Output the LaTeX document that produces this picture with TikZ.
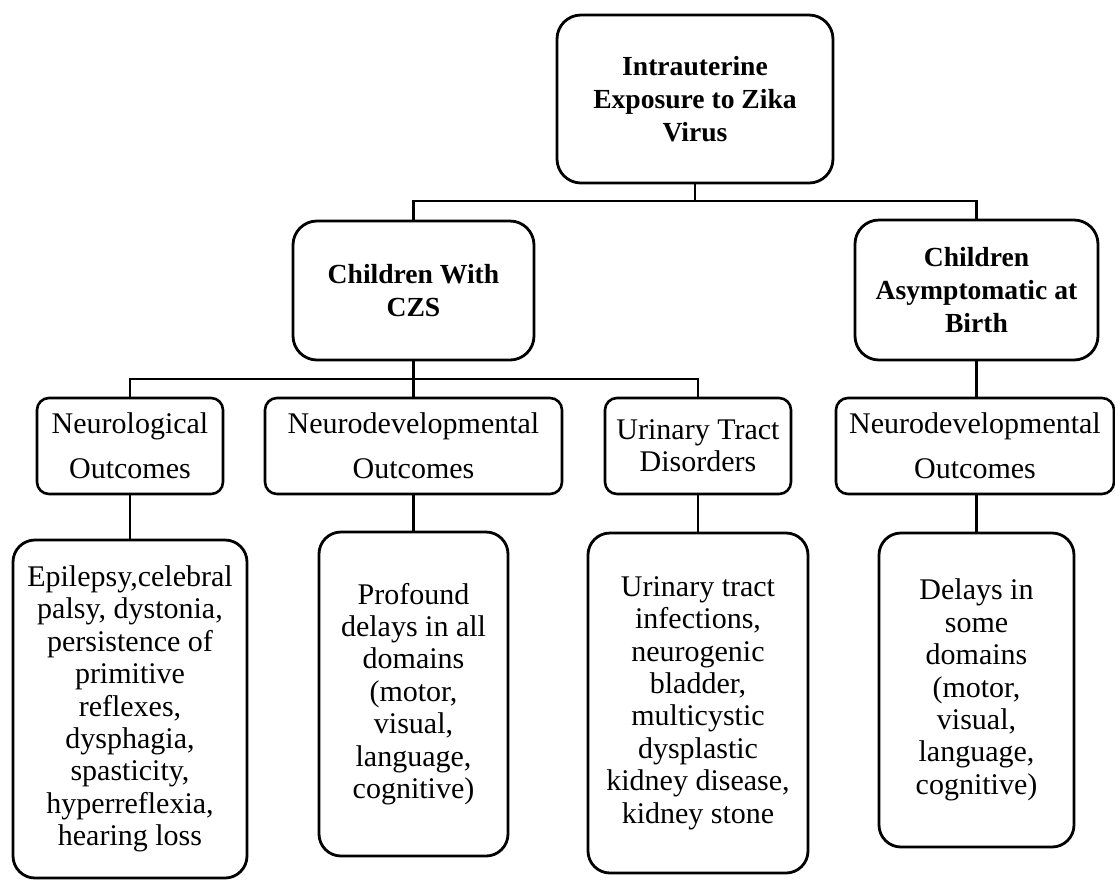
\documentclass[tikz,border=0pt]{standalone}
\usepackage{fontspec}
\setmainfont{Liberation Serif}

\begin{document}
\begin{tikzpicture}[x=0.5pt,y=-0.5pt,
    headbox/.style={draw,line width=1.4pt,rounded corners=12pt,align=center,inner sep=0pt,outer sep=0pt,
        font=\fontsize{13.8}{16.5}\selectfont\bfseries},
    outbox/.style={draw,line width=1.3pt,rounded corners=6pt,align=center,inner sep=0pt,outer sep=0pt,
        minimum height=48pt,font=\fontsize{15}{22.5}\selectfont},
    detailbox/.style={draw,line width=1.4pt,rounded corners=11pt,align=center,inner sep=0pt,outer sep=0pt,
        font=\fontsize{15}{16.2}\selectfont},
    link/.style={line width=1.4pt}]
    \useasboundingbox (0,0) rectangle (1115,880);
    % Top of the tree
    \node[headbox,minimum width=138pt,minimum height=84pt] (zika) at (695,99)
        {Intrauterine\\Exposure to Zika\\Virus};
    % Two groups of children
    \node[headbox,minimum width=120.5pt,minimum height=69.5pt] (czs) at (413.5,290.5)
        {Children With\\CZS};
    \node[headbox,minimum width=121.5pt,minimum height=70pt] (asym) at (976.5,290)
        {Children\\Asymptomatic at\\Birth};
    % Outcome headings
    \node[outbox,minimum width=93pt] (neuro) at (130,446) {Neurological\\Outcomes};
    \node[outbox,minimum width=148.5pt] (ndev) at (413.5,446) {Neurodevelopmental\\Outcomes};
    \node[outbox,minimum width=93pt,font=\fontsize{15}{16.2}\selectfont] (uti) at (698,446)
        {Urinary Tract\\Disorders};
    \node[outbox,minimum width=139pt] (ndevb) at (975,446) {Neurodevelopmental\\Outcomes};
    % Details
    \node[detailbox,minimum width=117pt,minimum height=169pt] (epi) at (130,709)
        {Epilepsy,celebral\\palsy, dystonia,\\persistence of\\primitive\\reflexes,\\dysphagia,\\spasticity,\\hyperreflexia,\\hearing loss};
    \node[detailbox,minimum width=94.5pt,minimum height=162pt] (delayall) at (413.5,694)
        {Profound\\delays in all\\domains\\(motor,\\visual,\\language,\\cognitive)};
    \node[detailbox,minimum width=110pt,minimum height=170pt] (kidney) at (698,703)
        {Urinary tract\\infections,\\neurogenic\\bladder,\\multicystic\\dysplastic\\kidney disease,\\kidney stone};
    \node[detailbox,minimum width=97.5pt,minimum height=157pt] (delaysome) at (976.5,690)
        {Delays in\\some\\domains\\(motor,\\visual,\\language,\\cognitive)};
    % Connectors
    \coordinate (j1) at (695,201);
    \coordinate (j2) at (413.5,379);
    \draw[link] (zika.south) -- (j1);
    \draw[link] (czs.north) |- (j1) -| (asym.north);
    \draw[link] (czs.south) -- (j2);
    \draw[link] (neuro.north) |- (j2) -| (uti.north);
    \draw[link] (j2) -- (ndev.north);
    \draw[link] (asym.south) -- (asym.south |- ndevb.north);
    \draw[link] (neuro.south) -- (epi.north);
    \draw[link] (ndev.south) -- (delayall.north);
    \draw[link] (uti.south) -- (kidney.north);
    \draw[link] (ndevb.south -| delaysome.north) -- (delaysome.north);
\end{tikzpicture}
\end{document}
